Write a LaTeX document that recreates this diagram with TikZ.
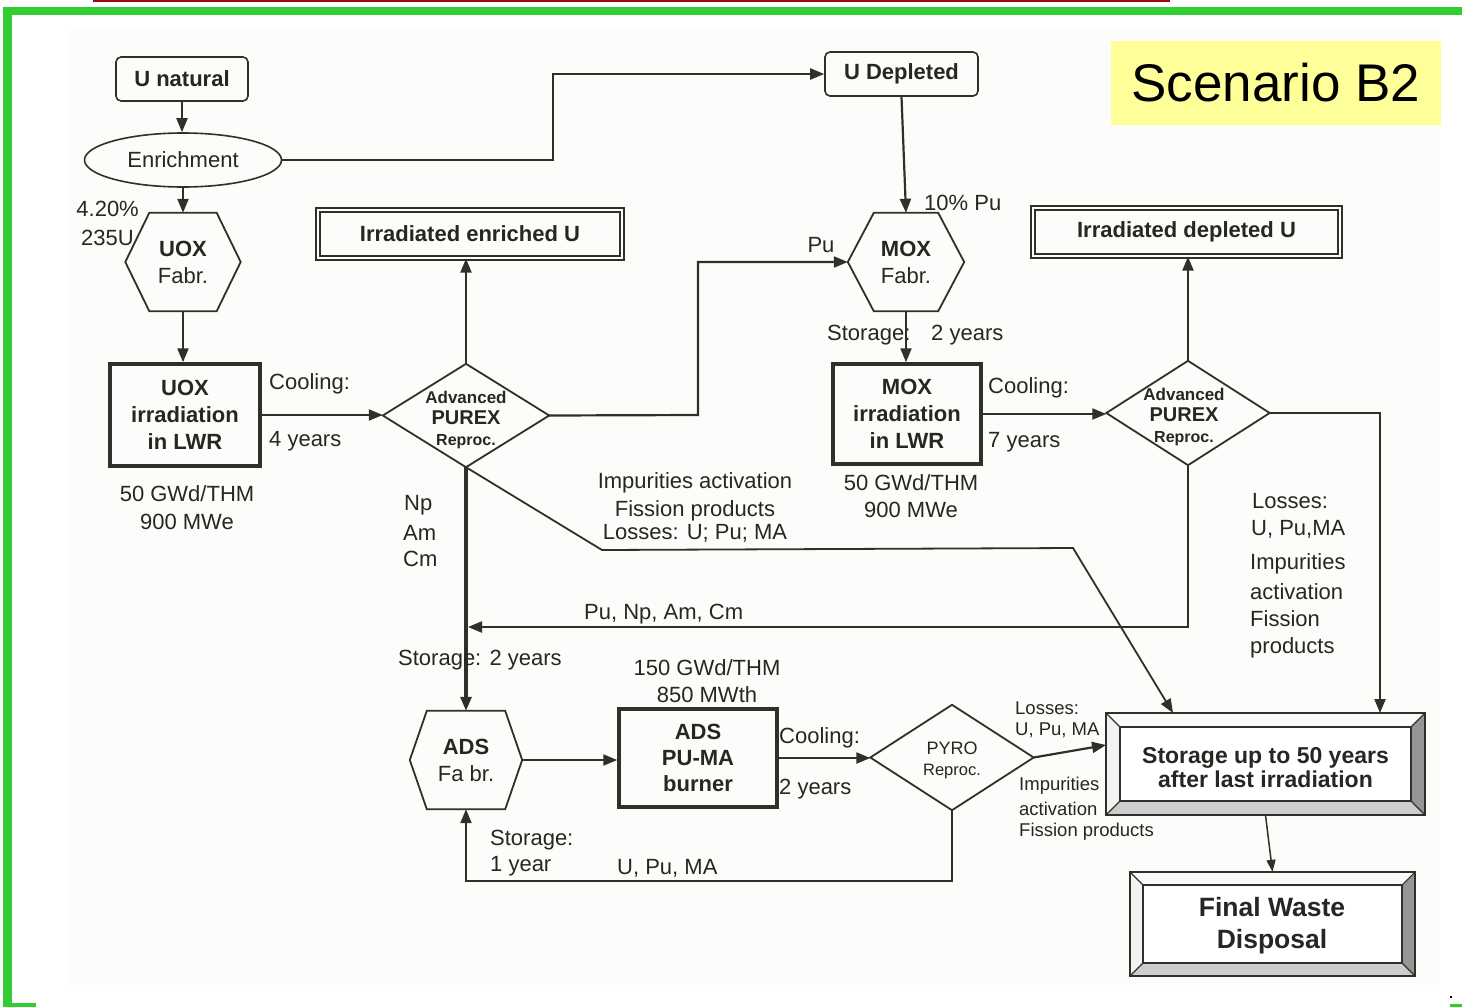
\documentclass[tikz,border=0pt]{standalone}
\usepackage{fontspec}
\setmainfont{Liberation Sans}
\usetikzlibrary{arrows.meta,shapes.geometric}

\definecolor{ink}{RGB}{48,48,40}
\definecolor{txt}{RGB}{38,38,34}
\definecolor{framegreen}{RGB}{50,205,50}
\definecolor{topred}{RGB}{150,10,10}
\definecolor{notebg}{RGB}{255,255,153}
\definecolor{paper}{RGB}{252,252,250}
\definecolor{bvtop}{RGB}{250,250,250}
\definecolor{bvleft}{RGB}{242,242,242}
\definecolor{bvright}{RGB}{150,150,150}
\definecolor{bvbottom}{RGB}{205,205,205}

\newcommand{\fsz}[2]{\fontsize{#1}{#2}\selectfont}

% bevelled frame around an (empty) node: #1 node name, #2 bevel width in pt
\newcommand{\bevelbox}[2]{%
  \fill[bvtop] (#1.north west) -- (#1.north east) -- ([xshift=-#2pt,yshift=-#2pt]#1.north east) -- ([xshift=#2pt,yshift=-#2pt]#1.north west) -- cycle;
  \fill[bvright] (#1.north east) -- (#1.south east) -- ([xshift=-#2pt,yshift=#2pt]#1.south east) -- ([xshift=-#2pt,yshift=-#2pt]#1.north east) -- cycle;
  \fill[bvbottom] (#1.south east) -- (#1.south west) -- ([xshift=#2pt,yshift=#2pt]#1.south west) -- ([xshift=-#2pt,yshift=#2pt]#1.south east) -- cycle;
  \fill[bvleft] (#1.south west) -- (#1.north west) -- ([xshift=#2pt,yshift=-#2pt]#1.north west) -- ([xshift=#2pt,yshift=#2pt]#1.south west) -- cycle;
  \draw[ink, line width=1.1pt] (#1.north west) -- ([xshift=#2pt,yshift=-#2pt]#1.north west)
    (#1.north east) -- ([xshift=-#2pt,yshift=-#2pt]#1.north east)
    (#1.south east) -- ([xshift=-#2pt,yshift=#2pt]#1.south east)
    (#1.south west) -- ([xshift=#2pt,yshift=#2pt]#1.south west);
  \draw[ink, line width=1.6pt, fill=white] ([xshift=#2pt,yshift=-#2pt]#1.north west) rectangle ([xshift=-#2pt,yshift=#2pt]#1.south east);
  \draw[ink, line width=2pt] (#1.north west) rectangle (#1.south east);
}

\begin{document}
\begin{tikzpicture}[x=1pt,y=-1pt,
  every node/.style={text=txt, inner sep=0pt},
  conn/.style={draw=ink, line width=2.2pt},
  arr/.style={conn, -{Triangle[length=14pt,width=11pt]}},
  outline/.style={draw=ink, line width=1.8pt},
  lbl/.style={font=\fsz{22}{27}},
  smalllbl/.style={font=\fsz{18.5}{23}},
  rbox/.style={draw=ink, line width=1.6pt, rounded corners=5pt, font=\bfseries\fsz{22}{26}},
  tbox/.style={draw=ink, line width=3.5pt, align=center, font=\bfseries\fsz{22}{27}},
  dblbox/.style={draw=ink, double=white, double distance=2.5pt, line width=1.3pt, font=\bfseries\fsz{22}{26}},
  hexbox/.style={align=center, font=\fsz{22}{27}},
  diatext/.style={align=center, font=\bfseries\fsz{17}{21}},
]
\useasboundingbox (0,0) rectangle (1462,1007);

% page frame
\fill[paper] (68,28) rectangle (1440,985);
\fill[topred] (93,0) rectangle (1170,2);
\fill[framegreen] (3,7) rectangle (1462,15);
\fill[framegreen] (3,7) rectangle (12,1007);
\fill[framegreen] (3,1003) rectangle (36,1007);
\fill[framegreen] (1450,1004) rectangle (1462,1007);
\fill[black] (1450,996) rectangle (1452,998);

% title
\node[fill=notebg, minimum width=330pt, minimum height=84pt, font=\fsz{53}{60}, text=black] (title) at (1276,83) {Scenario B2};

% ---------- nodes ----------
\node[rbox, minimum width=132pt, minimum height=44pt] (unat) at (182,79) {U natural};
\node[ellipse, draw=ink, line width=1.6pt, minimum width=197pt, minimum height=54pt, font=\fsz{22}{26}] (enr) at (183,160) {Enrichment};

\node[hexbox, minimum width=115pt, minimum height=98pt] (uoxf) at (183,262) {\textbf{UOX}\\Fabr.};
\draw[outline] (uoxf.west) -- ([xshift=24pt]uoxf.north west) -- ([xshift=-24pt]uoxf.north east) -- (uoxf.east) -- ([xshift=-24pt]uoxf.south east) -- ([xshift=24pt]uoxf.south west) -- cycle;

\node[tbox, minimum width=150pt, minimum height=102pt] (uoxi) at (185,415) {UOX\\irradiation\\in LWR};

% advanced PUREX reprocessing (UOX line)
\node[minimum width=166pt, minimum height=103pt] (px1) at (466,415.5) {};
\draw[outline] (px1.west) -- (px1.north) -- (px1.east) -- (px1.south) -- cycle;
\node[diatext] (px1text) at ([yshift=-4pt]px1.center) {Advanced\\{\fsz{20}{21}PUREX}\\{\fsz{16}{20}Reproc.}};

\node[dblbox, minimum width=304pt, minimum height=48pt] (irenr) at (470,234) {Irradiated enriched U};

\node[rbox, minimum width=153pt, minimum height=44pt] (udep) at (901.5,74) {U Depleted};

\node[hexbox, minimum width=116pt, minimum height=98pt] (moxf) at (906,262) {\textbf{MOX}\\Fabr.};
\draw[outline] (moxf.west) -- ([xshift=26pt]moxf.north west) -- ([xshift=-26pt]moxf.north east) -- (moxf.east) -- ([xshift=-26pt]moxf.south east) -- ([xshift=26pt]moxf.south west) -- cycle;

\node[tbox, minimum width=148pt, minimum height=100pt] (moxi) at (907,414) {MOX\\irradiation\\in LWR};

% advanced PUREX reprocessing (MOX line)
\node[minimum width=163pt, minimum height=104pt] (px2) at (1188,413) {};
\draw[outline] (px2.west) -- (px2.north) -- (px2.east) -- (px2.south) -- cycle;
\node[diatext] (px2text) at ([xshift=-4pt,yshift=-4pt]px2.center) {Advanced\\{\fsz{20}{21}PUREX}\\{\fsz{16}{20}Reproc.}};

\node[dblbox, minimum width=307pt, minimum height=48pt] (irdep) at (1186.5,232) {Irradiated depleted U};

\node[hexbox, minimum width=112pt, minimum height=98pt] (adsf) at (466,760) {\textbf{ADS}\\Fa br.};
\draw[outline] (adsf.west) -- ([xshift=17pt]adsf.north west) -- ([xshift=-17pt]adsf.north east) -- (adsf.east) -- ([xshift=-17pt]adsf.south east) -- ([xshift=17pt]adsf.south west) -- cycle;

\node[tbox, minimum width=158pt, minimum height=98pt, font=\bfseries\fsz{22}{26}] (adsb) at (698,758) {ADS\\PU-MA\\burner};

\node[minimum width=163pt, minimum height=105pt] (pyro) at (952,757.5) {};
\draw[outline] (pyro.west) -- (pyro.north) -- (pyro.east) -- (pyro.south) -- cycle;
\node[align=center, font=\fsz{18}{21}] (pyrotext) at ([yshift=-3pt]pyro.center) {PYRO\\{\fsz{16.5}{20}Reproc.}};

\node[minimum width=319pt, minimum height=102pt] (stor) at (1265.5,764) {};
\bevelbox{stor}{14}
\node[align=center, font=\bfseries\fsz{23}{24}] (stortext) at (1265.5,768) {Storage up to 50 years\\after last irradiation};

\node[minimum width=285pt, minimum height=104pt] (final) at (1272.5,924) {};
\bevelbox{final}{13}
\node[align=center, font=\bfseries\fsz{26.5}{32}] (finaltext) at (1272,926) {Final Waste\\Disposal};

% ---------- connectors ----------
\coordinate (bendA) at (553,160);
\coordinate (bendB) at (698,415);
\coordinate (stA) at (1380,713);
\coordinate (stB) at (1173,713);
\coordinate (stC) at (1106,745);
\coordinate (joinNp) at (468,627);
\coordinate (dgA) at (602,550);
\coordinate (dgB) at (1073,548);

\draw[arr] (unat.south) -- (unat.south |- enr.north);
\draw[arr] (enr.east) -- (bendA) |- (udep.west);
\draw[arr] (enr.south) -- (enr.south |- uoxf.north);
\draw[arr] (uoxf.south) -- (uoxf.south |- uoxi.north);
\draw[arr] (uoxi.east) -- (uoxi.east -| px1.west);
\draw[arr] (px1.north) -- (px1.north |- irenr.south);
\draw[arr] (px1.east) -- (bendB) |- (moxf.west);
\draw[arr] (udep.south) -- (moxf.north);
\draw[arr] (moxf.south) -- (moxf.south |- moxi.north);
\draw[arr] (moxi.east) -- (moxi.east -| px2.west);
\draw[arr] (px2.north) -- (px2.north |- irdep.south);
\draw[arr] (px2.east) -| (stA);
\draw[arr] (px2.south) |- (joinNp);
\draw[arr, line width=3.2pt] (px1.south) -- (px1.south |- adsf.north);
\draw[arr, line width=1.8pt] (px1.south) -- (dgA) -- (dgB) -- (stB);
\draw[arr] (adsf.east) -- (adsf.east -| adsb.west);
\draw[arr] (adsb.east) -- (adsb.east -| pyro.west);
\draw[arr] (pyro.east) -- (stC);
\draw[arr] (pyro.south) |- ([yshift=-72pt]adsf.south) -- (adsf.south);
\draw[draw=ink, line width=1.5pt, -{Triangle[length=12pt,width=9pt]}] (stor.south) -- (final.north);

% ---------- labels ----------
\node[lbl, anchor=east] (l420) at (139,209) {4.20\%};
\node[lbl, anchor=east] (l235) at (134,238) {235U};
\node[lbl, anchor=west] (lcool1) at (269,384) {Cooling:};
\node[lbl, anchor=west] (lyr1) at (269,441) {4 years};
\node[lbl] (lgwd1) at (187,494) {50 GWd/THM};
\node[lbl] (lmwe1) at (187,522) {900 MWe};
\node[lbl, anchor=west] (lnp) at (404,505) {Np};
\node[lbl, anchor=west] (lam) at (403,533) {Am};
\node[lbl, anchor=west] (lcm) at (403,559) {Cm};
\node[lbl] (limp1) at (695,483) {Impurities activation};
\node[lbl] (lfis1) at (695,511) {Fission products};
\node[lbl] (lloss1) at (695,533) {Losses: U; Pu; MA};
\node[lbl, anchor=west] (lpunp) at (584,614) {Pu, Np, Am, Cm};
\node[lbl, anchor=west] (lstor2) at (398,660) {Storage: 2 years};
\node[lbl] (lgwd3) at (707,668) {150 GWd/THM};
\node[lbl] (lmwt) at (707,695) {850 MWth};
\node[lbl, anchor=west] (lcool3) at (779,738) {Cooling:};
\node[lbl, anchor=west] (lyr3) at (779,789) {2 years};
\node[lbl, anchor=west] (lstor1a) at (490,840) {Storage:};
\node[lbl, anchor=west] (lstor1b) at (490,866) {1 year};
\node[lbl, anchor=west] (lupuma) at (617,868) {U, Pu, MA};
\node[lbl] (lpu) at (821,245) {Pu};
\node[lbl, anchor=west] (l10pu) at (924,203) {10\% Pu};
\node[lbl, anchor=west] (lstormox) at (827,335) {Storage:};
\node[lbl, anchor=west] (lyrmox) at (931,335) {2 years};
\node[lbl, anchor=west] (lcool2) at (988,388) {Cooling:};
\node[lbl, anchor=west] (lyr2) at (988,442) {7 years};
\node[lbl] (lgwd2) at (911,483) {50 GWd/THM};
\node[lbl] (lmwe2) at (911,510) {900 MWe};
\node[lbl, anchor=west] (rloss) at (1252,501) {Losses:};
\node[lbl, anchor=west] (rupuma) at (1251,529) {U, Pu,MA};
\node[lbl, anchor=west] (rimp) at (1250,564) {Impurities};
\node[lbl, anchor=west] (ract) at (1250,592) {activation};
\node[lbl, anchor=west] (rfis) at (1250,619) {Fission};
\node[lbl, anchor=west] (rprod) at (1250,648) {products};
\node[smalllbl, anchor=west] (ploss) at (1015,708) {Losses:};
\node[smalllbl, anchor=west] (pupuma) at (1015,730) {U, Pu, MA};
\node[smalllbl, anchor=west] (pimp) at (1019,786) {Impurities};
\node[smalllbl, anchor=west] (pact) at (1019,809) {activation};
\node[smalllbl, anchor=west] (pfis) at (1019,832) {Fission products};
\end{tikzpicture}
\end{document}
